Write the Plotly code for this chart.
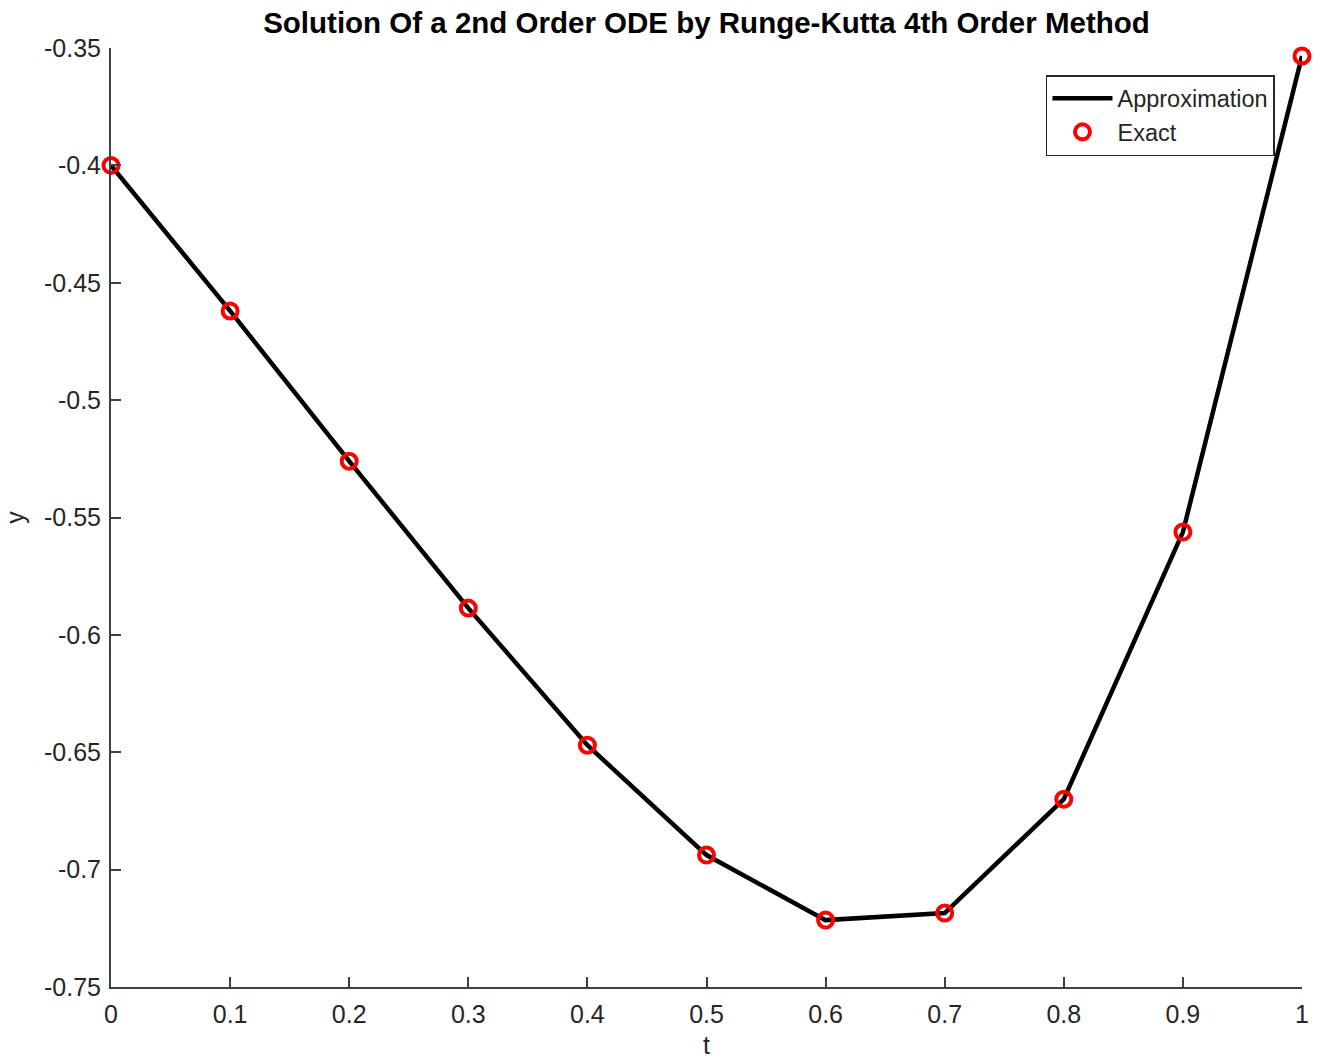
import plotly.graph_objects as go

t = [0.0, 0.1, 0.2, 0.3, 0.4, 0.5, 0.6, 0.7, 0.8, 0.9, 1.0]
y_approx = [-0.4, -0.462, -0.526, -0.5886, -0.647, -0.6938, -0.7215, -0.7185, -0.670, -0.5562, -0.3534]
y_exact = [-0.4, -0.462, -0.526, -0.5886, -0.647, -0.6938, -0.7215, -0.7185, -0.670, -0.5562, -0.3534]

x_ticks = [0, 0.1, 0.2, 0.3, 0.4, 0.5, 0.6, 0.7, 0.8, 0.9, 1]
x_labels = ["0", "0.1", "0.2", "0.3", "0.4", "0.5", "0.6", "0.7", "0.8", "0.9", "1"]
y_ticks = [-0.75, -0.7, -0.65, -0.6, -0.55, -0.5, -0.45, -0.4, -0.35]
y_labels = ["-0.75", "-0.7", "-0.65", "-0.6", "-0.55", "-0.5", "-0.45", "-0.4", "-0.35"]

font = "Liberation Sans, Arial, sans-serif"
axcol = "#404040"

fig = go.Figure()
fig.add_trace(go.Scatter(x=t, y=y_approx, mode="lines", name="Approximation",
                         line=dict(color="black", width=4.5), cliponaxis=False))
fig.add_trace(go.Scatter(x=t, y=y_exact, mode="markers", name="Exact",
                         marker=dict(symbol="circle-open", size=15, color="#ff0000",
                                     line=dict(width=4, color="#ff0000")),
                         cliponaxis=False))

fig.update_layout(
    width=1321, height=1059,
    margin=dict(l=111, r=19, t=48, b=72),
    paper_bgcolor="white", plot_bgcolor="white",
    font=dict(family=font, size=25, color="#262626"),
    title=dict(text="<b>Solution Of a 2nd Order ODE by Runge-Kutta 4th Order Method</b>",
               x=(111 + 1302) / 2 / 1321, xanchor="center", y=1 - 23 / 1059, yanchor="middle",
               font=dict(family=font, size=29.5, color="black")),
    showlegend=True,
    legend=dict(x=0.9773, y=0.9712, xanchor="right", yanchor="top",
                bgcolor="white", bordercolor="#262626", borderwidth=1.5,
                font=dict(family=font, size=23.5, color="#262626"),
                tracegroupgap=0, itemwidth=60),
)
fig.update_xaxes(range=[0, 1], tickvals=x_ticks, ticktext=x_labels,
                 showgrid=False, zeroline=False, showline=True, linecolor=axcol, linewidth=2,
                 ticks="inside", ticklen=10, tickwidth=2, tickcolor=axcol,
                 tickfont=dict(size=25), ticklabelstandoff=4, automargin=False,
                 title=dict(text="t", standoff=11, font=dict(size=25)))
fig.update_yaxes(range=[-0.75, -0.35], tickvals=y_ticks, ticktext=y_labels,
                 showgrid=False, zeroline=False, showline=True, linecolor=axcol, linewidth=2,
                 ticks="inside", ticklen=10, tickwidth=2, tickcolor=axcol,
                 tickfont=dict(size=25), ticklabelstandoff=3, automargin=False,
                 title=dict(text="y", standoff=12, font=dict(size=25)))

fig.write_html("out.html")
